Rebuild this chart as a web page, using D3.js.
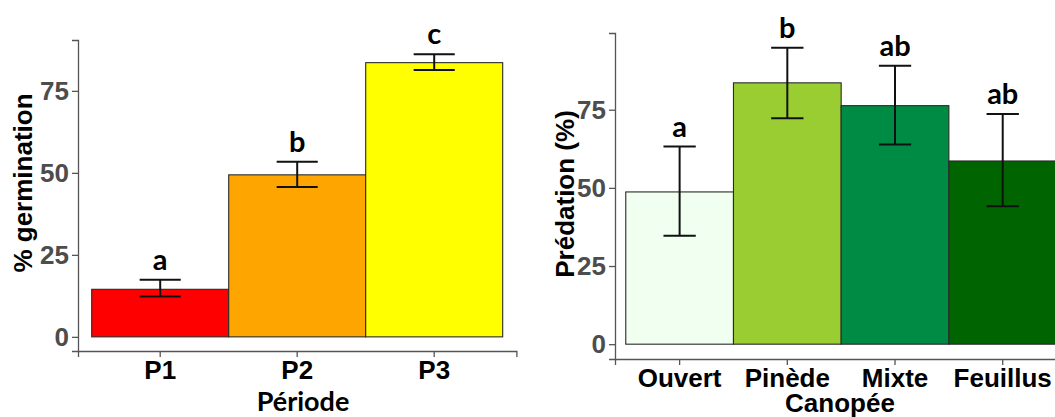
<!DOCTYPE html>
<html>
<head>
<meta charset="utf-8">
<script src="https://cdn.jsdelivr.net/npm/d3@7"></script>
<style>
  html, body { margin: 0; padding: 0; background: #ffffff; }
  svg { display: block; }
</style>
</head>
<body>
<svg id="chart" width="1055" height="417"></svg>
<script>
// ---- Data: left panel (germination by period) ----
const periodes = ["P1", "P2", "P3"];
const germMean = [14.5, 49.4, 83.6];
const germLow  = [12.3, 45.7, 81.4];
const germHigh = [17.4, 53.4, 86.2];
const germLetters = ["a", "b", "c"];
const germColors = ["#FF0000", "#FFA500", "#FFFF00"];

// ---- Data: right panel (predation by canopy) ----
const canopees = ["Ouvert", "Pinède", "Mixte", "Feuillus"];
const predMean = [48.7, 83.6, 76.3, 58.6];
const predLow  = [34.7, 72.3, 63.9, 44.1];
const predHigh = [63.2, 94.8, 89.1, 73.6];
const predLetters = ["a", "b", "ab", "ab"];
const predColors = ["#F0FFF0", "#9ACD32", "#008B45", "#006400"];

const yTicks = [0, 25, 50, 75];

const svg = d3.select("#chart");
const AX = "'Liberation Sans', Arial, sans-serif";
const LET = "Lato, 'Open Sans', sans-serif";

function panel(cfg) {
  const g = svg.append("g");
  const n = cfg.cats.length;
  const x = d3.scaleBand().domain(cfg.cats)
    .range([cfg.x0, cfg.x0 + cfg.step * (n + 0.2)])
    .paddingInner(0).paddingOuter(0.1);
  const maxV = d3.max(cfg.high);
  const y = d3.scaleLinear().domain([-0.05 * maxV, 1.05 * maxV]).range([cfg.yBottom, cfg.yTop]);

  const rows = cfg.cats.map((c, i) => ({c, m: cfg.mean[i], lo: cfg.low[i], hi: cfg.high[i], l: cfg.letters[i], col: cfg.colors[i]}));

  // bars
  g.selectAll("rect.bar").data(rows).join("rect")
    .attr("class", "bar")
    .attr("x", d => x(d.c)).attr("width", x.bandwidth())
    .attr("y", d => y(d.m)).attr("height", d => y(0) - y(d.m))
    .attr("fill", d => d.col).attr("stroke", "#2a2a2a").attr("stroke-width", 1.1);

  // error bars
  const ew = x.bandwidth() * 0.3;
  const cx = d => x(d.c) + x.bandwidth() / 2;
  const eb = g.selectAll("g.err").data(rows).join("g").attr("class", "err")
    .attr("stroke", "#111").attr("stroke-width", 2);
  eb.append("line").attr("x1", cx).attr("x2", cx)
    .attr("y1", d => y(d.lo)).attr("y2", d => y(d.hi));
  eb.append("line").attr("x1", d => cx(d) - ew / 2).attr("x2", d => cx(d) + ew / 2)
    .attr("y1", d => y(d.hi)).attr("y2", d => y(d.hi));
  eb.append("line").attr("x1", d => cx(d) - ew / 2).attr("x2", d => cx(d) + ew / 2)
    .attr("y1", d => y(d.lo)).attr("y2", d => y(d.lo));

  // letters
  g.selectAll("text.let").data(rows).join("text")
    .attr("class", "let")
    .attr("x", cx)
    .attr("y", d => y(d.hi) - 10)
    .attr("text-anchor", "middle")
    .attr("font-family", LET).attr("font-weight", 700).attr("font-size", 29)
    .attr("fill", "#000")
    .text(d => d.l);

  // y axis
  const yAxis = d3.axisLeft(y).tickValues(yTicks).tickSize(6).tickPadding(3);
  const ya = g.append("g").attr("transform", `translate(${cfg.x0},0)`).call(yAxis);
  ya.select(".domain").attr("stroke", "#555").attr("stroke-width", 1.3);
  ya.selectAll(".tick line").attr("stroke", "#555").attr("stroke-width", 1.3);
  ya.selectAll(".tick text").attr("font-family", AX).attr("font-weight", 700)
    .attr("font-size", 26).attr("fill", "#4D4D4D");

  // x axis
  const xAxis = d3.axisBottom(x).tickSize(6).tickPadding(4);
  const xa = g.append("g").attr("transform", `translate(0,${cfg.yBottom})`).call(xAxis);
  xa.select(".domain").attr("stroke", "#555").attr("stroke-width", 1.3);
  xa.selectAll(".tick line").attr("stroke", "#555").attr("stroke-width", 1.3);
  xa.selectAll(".tick text").attr("font-family", AX).attr("font-weight", 700)
    .attr("font-size", 26).attr("fill", "#000");

  // y title
  g.append("text")
    .attr("transform", `translate(${cfg.yTitleX},${cfg.yTitleY}) rotate(-90)`)
    .attr("text-anchor", "middle")
    .attr("font-family", AX).attr("font-weight", 700).attr("font-size", 26)
    .attr("fill", "#000").text(cfg.yTitle);
  return {x, y, g};
}

panel({cats: periodes, mean: germMean, low: germLow, high: germHigh, letters: germLetters, colors: germColors,
  x0: 78, step: 137, yTop: 40, yBottom: 351, yTitle: "% germination", yTitleX: 32, yTitleY: 183});

panel({cats: canopees, mean: predMean, low: predLow, high: predHigh, letters: predLetters, colors: predColors,
  x0: 615, step: 107.7, yTop: 33, yBottom: 359, yTitle: "Prédation (%)", yTitleX: 574, yTitleY: 194});

// x titles
svg.append("text").attr("x", 303).attr("y", 411).attr("text-anchor", "middle")
  .attr("font-family", LET).attr("font-weight", 700).attr("font-size", 27)
  .attr("fill", "#000").text("Période");
svg.append("text").attr("x", 840).attr("y", 412).attr("text-anchor", "middle")
  .attr("font-family", AX).attr("font-weight", 700).attr("font-size", 26)
  .attr("fill", "#000").text("Canopée");
</script>
</body>
</html>
